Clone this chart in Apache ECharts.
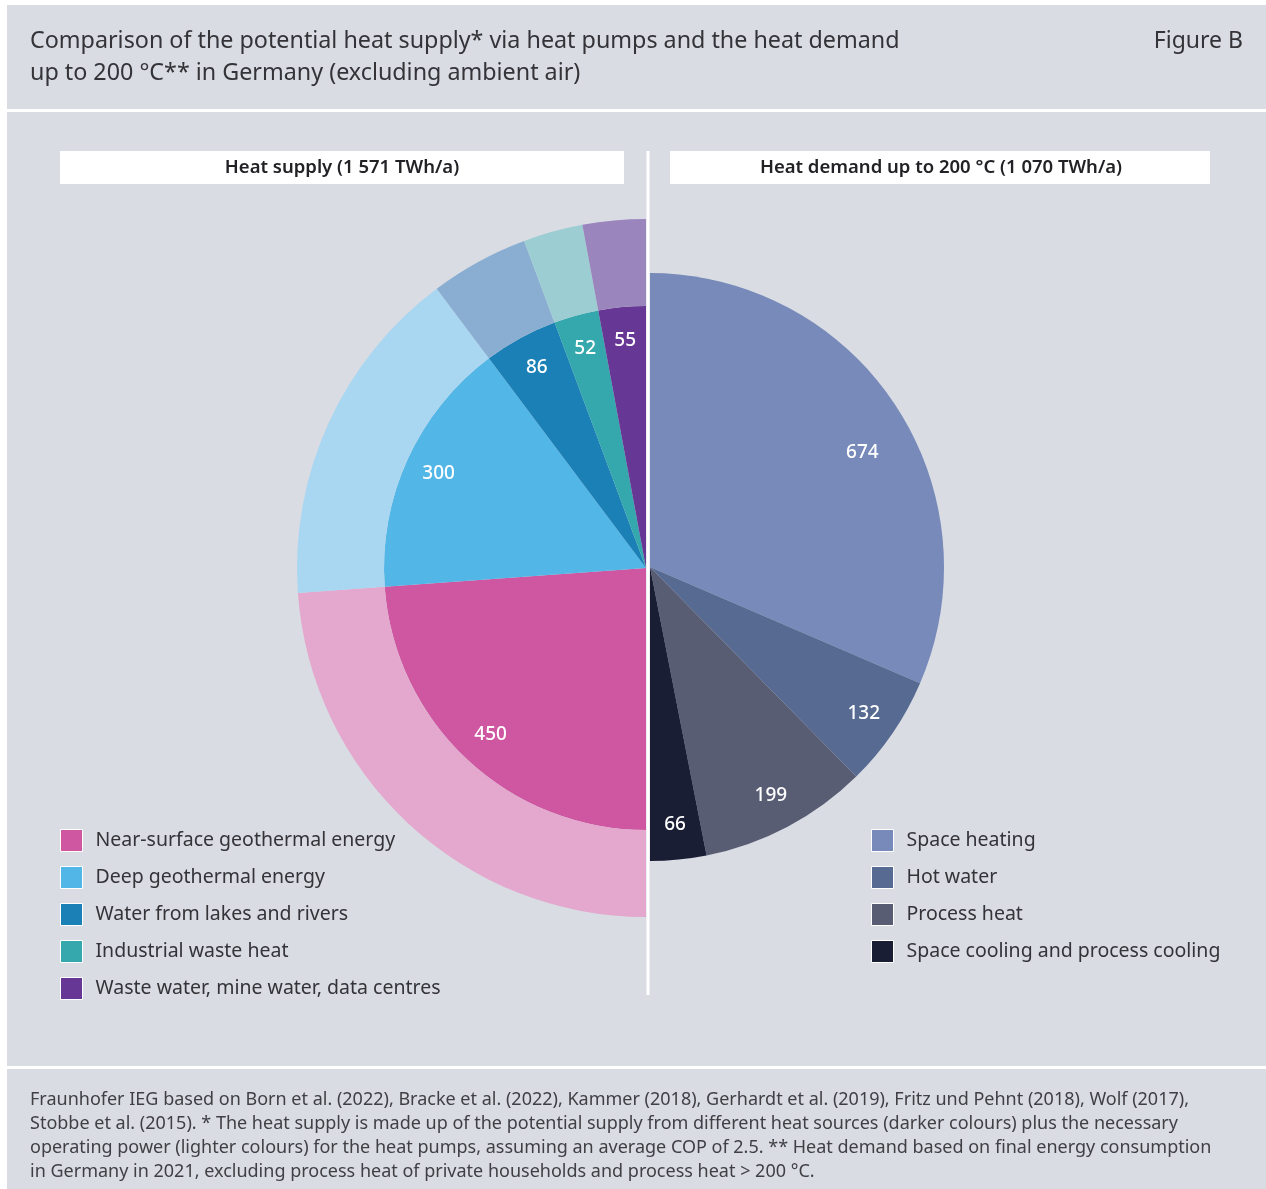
<!DOCTYPE html>
<html>
<head>
<meta charset="utf-8">
<title>Heat supply via heat pumps vs. heat demand in Germany</title>
<script src="https://cdn.jsdelivr.net/npm/echarts@6/dist/echarts.min.js"></script>
<style>
  html, body { margin: 0; padding: 0; background: #ffffff; }
  #chart { width: 1266px; height: 1189px; }
</style>
</head>
<body>
<div id="chart"></div>
<script>
// Heat supply: potential from the heat sources (TWh/a) and the operating power for the pumps (COP 2.5)
const supplyNames = [
  'Near-surface geothermal energy',
  'Deep geothermal energy',
  'Water from lakes and rivers',
  'Industrial waste heat',
  'Waste water, mine water, data centres'
];
const supplySource = [450, 300, 86, 52, 55];
const supplyPower = [300, 200, 57.3, 34.7, 36.7];
const supplyDark = ['#cf57a1', '#52b6e7', '#1a80b6', '#35a8ae', '#673795'];
const supplyLight = ['#e4a7cd', '#a9d7f1', '#8aaed2', '#9ccdd2', '#9a86bd'];

// Heat demand up to 200 °C (TWh/a)
const demandNames = ['Space heating', 'Hot water', 'Process heat', 'Space cooling and process cooling'];
const demandValues = [674, 132, 199, 66];
const demandColors = ['#778ab9', '#576a92', '#585d74', '#191e35'];

const titleLines = [
  'Comparison of the potential heat supply* via heat pumps and the heat demand',
  'up to 200 °C** in Germany (excluding ambient air)'
];
const figureTag = 'Figure B';
const supplyHeader = 'Heat supply (1 571 TWh/a)';
const demandHeader = 'Heat demand up to 200 °C (1 070 TWh/a)';
const footerLines = [
  'Fraunhofer IEG based on Born et al. (2022), Bracke et al. (2022), Kammer (2018), Gerhardt et al. (2019), Fritz und Pehnt (2018), Wolf (2017),',
  'Stobbe et al. (2015). * The heat supply is made up of the potential supply from different heat sources (darker colours) plus the necessary',
  'operating power (lighter colours) for the heat pumps, assuming an average COP of 2.5. ** Heat demand based on final energy consumption',
  'in Germany in 2021, excluding process heat of private households and process heat > 200 °C.'
];

const FONT = '"Noto Sans", "DejaVu Sans", sans-serif';
const BG = '#d9dce3';
const TEXT = '#333338';

const sum = arr => arr.reduce((a, b) => a + b, 0);

// A half pie: the real slices plus one invisible slice filling the other half
function halfData(names, values, colors) {
  const items = values.map((v, i) => ({
    name: names[i],
    value: v,
    itemStyle: { color: colors[i] }
  }));
  items.push({
    name: '',
    value: sum(values),
    itemStyle: { color: 'rgba(0,0,0,0)' },
    label: { show: false },
    emphasis: { disabled: true },
    tooltip: { show: false }
  });
  return items;
}

const leftCenter = [646, 568];
const rightCenter = [650, 567];

const pieBase = {
  type: 'pie',
  clockwise: true,
  avoidLabelOverlap: false,
  animation: false,
  labelLine: { show: false },
  itemStyle: { borderWidth: 0 },
  emphasis: { scale: false }
};

const valueLabel = {
  show: true,
  position: 'inside',
  formatter: '{c}',
  color: '#ffffff',
  fontFamily: FONT,
  fontSize: 19,
  fontWeight: 500
};

const chart = echarts.init(document.getElementById('chart'), null, { renderer: 'canvas' });

const graphics = [
  // white frame strips and separators
  { type: 'rect', shape: { x: 0, y: 0, width: 7, height: 1189 }, style: { fill: '#ffffff' }, silent: true },
  { type: 'rect', shape: { x: 0, y: 0, width: 1266, height: 5 }, style: { fill: '#ffffff' }, silent: true },
  { type: 'rect', shape: { x: 0, y: 109, width: 1266, height: 3 }, style: { fill: '#ffffff' }, silent: true },
  { type: 'rect', shape: { x: 0, y: 1066, width: 1266, height: 3 }, style: { fill: '#ffffff' }, silent: true },
  // header boxes
  { type: 'rect', shape: { x: 60, y: 151, width: 564, height: 33 }, style: { fill: '#ffffff' }, silent: true },
  { type: 'rect', shape: { x: 670, y: 151, width: 540, height: 33 }, style: { fill: '#ffffff' }, silent: true },
  { type: 'text', x: 342, y: 168, style: { text: supplyHeader, fill: '#222226', font: '600 18.5px ' + FONT, textAlign: 'center', textVerticalAlign: 'middle' }, silent: true },
  { type: 'text', x: 941, y: 168, style: { text: demandHeader, fill: '#222226', font: '600 18.5px ' + FONT, textAlign: 'center', textVerticalAlign: 'middle' }, silent: true },
  // dividing line between the two halves
  { type: 'rect', z: 10, shape: { x: 646.5, y: 151, width: 3, height: 844 }, style: { fill: '#ffffff' }, silent: true },
  // title
  { type: 'text', x: 1243, y: 41, style: { text: figureTag, fill: TEXT, font: '23px ' + FONT, textAlign: 'right', textVerticalAlign: 'middle' }, silent: true }
];
titleLines.forEach((t, i) => {
  graphics.push({ type: 'text', x: 30, y: 41 + i * 32, style: { text: t, fill: TEXT, font: '23.3px ' + FONT, textAlign: 'left', textVerticalAlign: 'middle' }, silent: true });
});
footerLines.forEach((t, i) => {
  graphics.push({ type: 'text', x: 30, y: 1100 + i * 24, style: { text: t, fill: '#3f3f44', font: '18px ' + FONT, textAlign: 'left', textVerticalAlign: 'middle' }, silent: true });
});

const legendCommon = {
  orient: 'vertical',
  icon: 'rect',
  padding: 0,
  itemWidth: 22,
  itemHeight: 22,
  itemGap: 14,
  selectedMode: false,
  itemStyle: { borderColor: '#ffffff', borderWidth: 1 },
  textStyle: { fontFamily: FONT, fontSize: 19.5, color: TEXT, lineHeight: 22, padding: [0, 0, 0, 8] }
};

chart.setOption({
  backgroundColor: BG,
  tooltip: { show: false },
  graphic: graphics,
  legend: [
    Object.assign({}, legendCommon, { left: 60, top: 829, data: supplyNames }),
    Object.assign({}, legendCommon, { left: 871, top: 829, data: demandNames })
  ],
  series: [
    // heat supply: darker core = potential from the sources
    Object.assign({}, pieBase, {
      name: 'Heat sources',
      center: leftCenter,
      radius: [0, 262],
      startAngle: 270,
      label: { show: false },
      data: halfData(supplyNames, supplySource, supplyDark)
    }),
    // heat supply: lighter ring = operating power for the heat pumps
    Object.assign({}, pieBase, {
      name: 'Operating power',
      center: leftCenter,
      radius: [262, 349],
      startAngle: 270,
      label: { show: false },
      data: halfData(supplyNames, supplyPower, supplyLight)
    }),
    // value labels for the heat sources, set near the rim of the core
    Object.assign({}, pieBase, {
      name: 'Heat source labels',
      center: leftCenter,
      radius: [188, 262],
      startAngle: 270,
      silent: true,
      label: valueLabel,
      data: halfData(supplyNames, supplySource, supplyDark.map(() => 'rgba(0,0,0,0)'))
    }),
    // heat demand
    Object.assign({}, pieBase, {
      name: 'Heat demand',
      center: rightCenter,
      radius: [0, 294],
      startAngle: 90,
      label: { show: false },
      data: halfData(demandNames, demandValues, demandColors)
    }),
    Object.assign({}, pieBase, {
      name: 'Heat demand labels',
      center: rightCenter,
      radius: [218, 294],
      startAngle: 90,
      silent: true,
      label: valueLabel,
      labelLayout: function (p) {
        // the large space-heating slice carries its label a little lower
        if (p.dataIndex === 0) return { dx: -4, dy: 28 };
        return {};
      },
      data: halfData(demandNames, demandValues, demandColors.map(() => 'rgba(0,0,0,0)'))
    })
  ]
});
</script>
</body>
</html>
